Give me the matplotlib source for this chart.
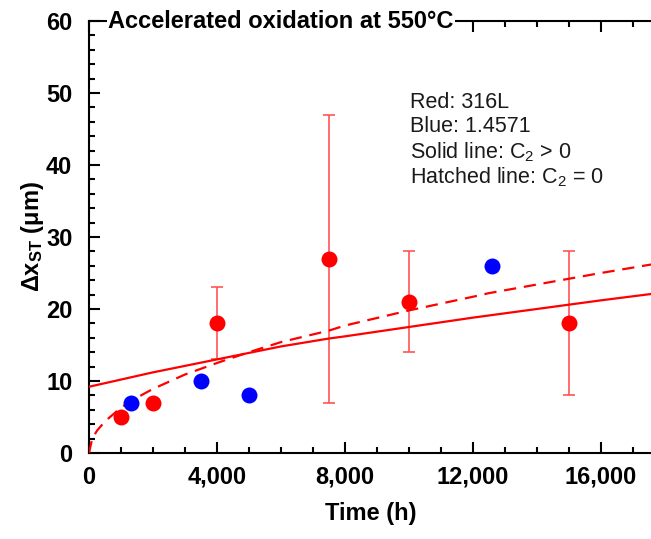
import numpy as np
import matplotlib.pyplot as plt
from matplotlib.ticker import MultipleLocator, FuncFormatter

plt.rcParams['font.family'] = ['Liberation Sans', 'DejaVu Sans']
plt.rcParams['mathtext.fontset'] = 'custom'
plt.rcParams['mathtext.rm'] = 'Liberation Sans'
plt.rcParams['mathtext.bf'] = 'Liberation Sans:bold'
plt.rcParams['mathtext.it'] = 'Liberation Sans:italic'

# 316L (red) measurements, with error bars where given
red_t = [1000, 2000, 4000, 7500, 10000, 15000]
red_x = [5, 7, 18, 27, 21, 18]
red_lo = [5, 7, 13, 7, 14, 8]
red_hi = [5, 7, 23, 47, 28, 28]

# 1.4571 (blue) measurements
blue_t = [1300, 3500, 5000, 12600]
blue_x = [7, 10, 8, 26]

# fitted curves
fit_t = [0, 100, 250, 500, 1000, 1500, 2000, 3000, 4000, 5000, 6000,
         7500, 8000, 10000, 12000, 12500, 14000, 15000, 16000, 17600]
solid_x = [9.2, 9.3, 9.45, 9.7, 10.2, 10.7, 11.2, 12.1, 13.0, 13.9, 14.8,
           15.9, 16.2, 17.5, 18.8, 19.1, 20.0, 20.6, 21.2, 22.1]
dashed_x = [0, 2.0, 3.1, 4.4, 6.3, 7.7, 8.9, 10.9, 12.5, 14.0, 15.4,
            17.0, 17.7, 19.8, 21.7, 22.2, 23.4, 24.2, 25.0, 26.2]

fig = plt.figure(figsize=(6.51, 5.39), dpi=100)
ax = fig.add_axes([89 / 651, 86 / 539, 563 / 651, 432 / 539])

# error bars (only for points that have them)
yerr = [np.array(red_x) - np.array(red_lo), np.array(red_hi) - np.array(red_x)]
ax.errorbar(red_t[2:], red_x[2:], yerr=[yerr[0][2:], yerr[1][2:]], fmt='none',
            ecolor='#ff5555', elinewidth=1.2, capsize=4.5, capthick=1.2, zorder=2)

ax.plot(fit_t, solid_x, color='#ff0000', lw=1.6, zorder=3)
ax.plot(fit_t, dashed_x, color='#ff0000', lw=1.6, ls=(0, (5.5, 3.5)), zorder=3)

ax.plot(red_t, red_x, 'o', color='#ff0000', ms=11.5, mec='none', zorder=4)
ax.plot(blue_t, blue_x, 'o', color='#0000ff', ms=11.5, mec='none', zorder=4)

ax.set_xlim(0, 17600)
ax.set_ylim(0, 60)
ax.xaxis.set_major_locator(MultipleLocator(4000))
ax.xaxis.set_minor_locator(MultipleLocator(1000))
ax.yaxis.set_major_locator(MultipleLocator(10))
ax.yaxis.set_minor_locator(MultipleLocator(2))
ax.xaxis.set_major_formatter(FuncFormatter(lambda v, p: f"{int(v):,}"))

ax.tick_params(which='both', direction='in', top=True, right=False, width=1.5)
ax.tick_params(which='major', length=8, labelsize=17)
ax.tick_params(which='minor', length=4.5)
ax.tick_params(axis='x', which='major', pad=9)
ax.tick_params(axis='y', which='major', pad=12)
for lab in ax.get_xticklabels() + ax.get_yticklabels():
    lab.set_fontweight('bold')

for s in ['left', 'bottom', 'top']:
    ax.spines[s].set_linewidth(1.5)
ax.spines['right'].set_visible(False)

ax.set_xlabel('Time (h)', fontsize=17, fontweight='bold', labelpad=10)
ax.set_ylabel(r'Δx$_{\mathbf{ST}}$ (μm)', fontsize=17, fontweight='bold', labelpad=0)

ax.text(19 / 563, 1.0, 'Accelerated oxidation at 550°C', transform=ax.transAxes,
        fontsize=17, fontweight='bold', va='center', ha='left',
        bbox=dict(facecolor='white', edgecolor='none', pad=1.0), zorder=5)

notes = ['Red: 316L', 'Blue: 1.4571', r'Solid line: C$_2$ > 0', r'Hatched line: C$_2$ = 0']
for i, s in enumerate(notes):
    ax.text(321 / 563, (453 - 102 - i * 25) / 432, s, transform=ax.transAxes, fontsize=15.5,
            color='#1a1a1a', va='center', ha='left')

fig.savefig('out.png', dpi=100)
